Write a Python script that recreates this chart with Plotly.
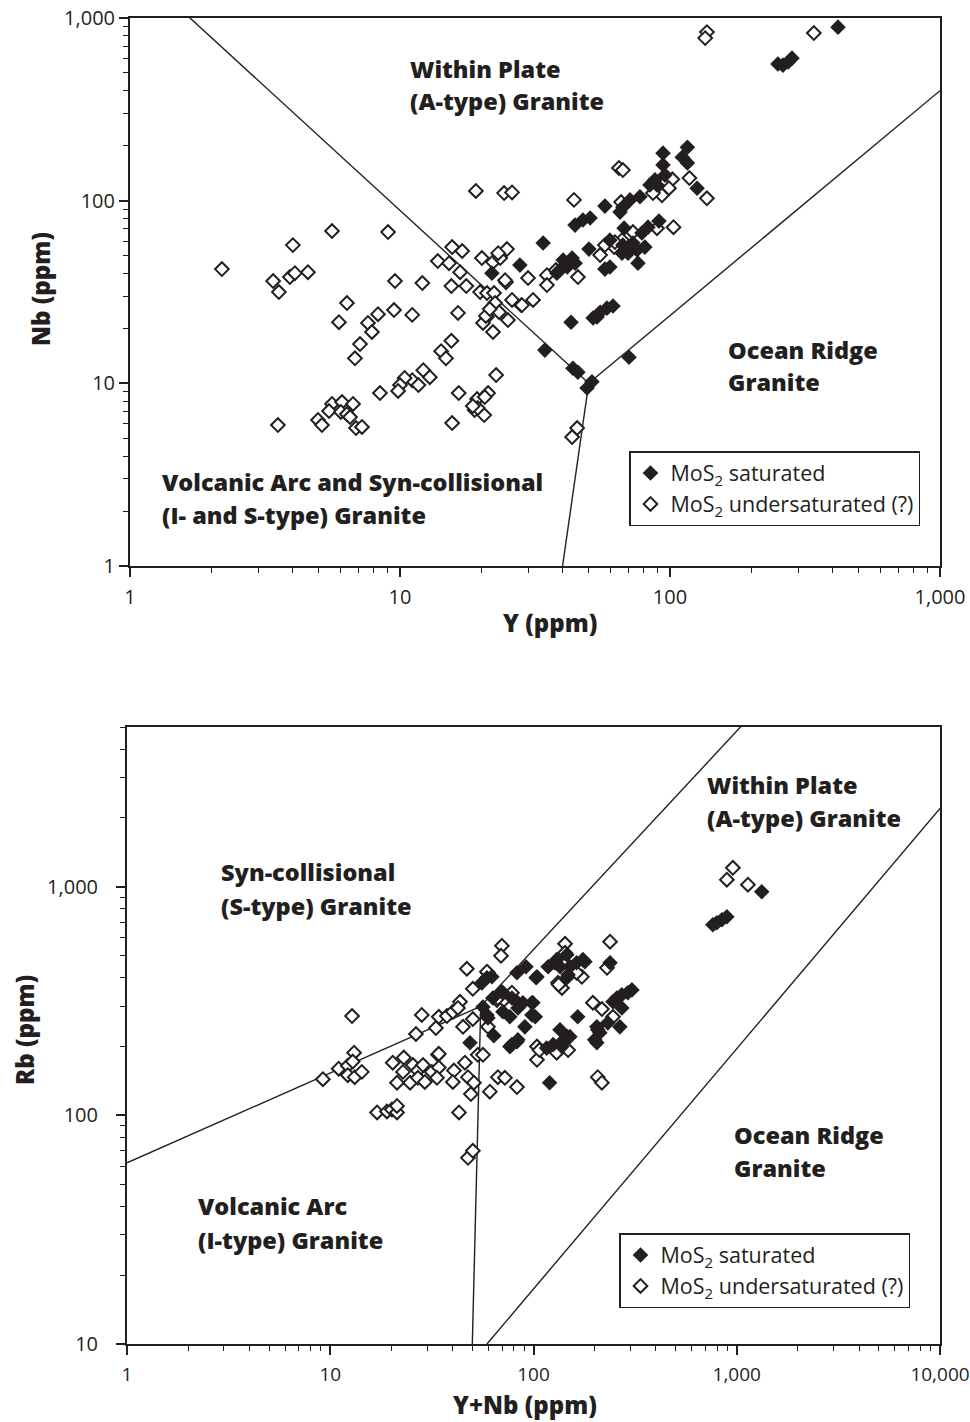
import plotly.graph_objects as go

INK = "#231f20"
FONT = "Open Sans"

# ---------------- Top diagram: Nb vs Y ----------------
top_sat_Y = [419, 251, 262, 283, 274, 94.2, 116, 111, 116, 94.2,
             95.8, 88.0, 84.3, 89.5, 126, 77.4, 71.1, 66.9, 65.3, 57.4,
             50.6, 47.6, 44.5, 33.9, 27.8, 21.9, 91.0, 82.9, 78.7, 67.6,
             59.9, 66.9, 72.9, 80.7, 75.5, 69.9, 66.4, 50.1, 76.1, 59.9,
             57.4, 40.2, 43.4, 44.5, 41.6, 39.1, 43.0, 51.9, 55.1, 58.4,
             61.5, 53.7, 34.4, 43.7, 45.6, 49.3, 51.4, 70.5, 38.1]
top_sat_Nb = [891, 560, 552, 603, 574, 182, 196, 173, 161, 157,
              138, 130, 122, 122, 117, 105, 101, 92.2, 86.6, 93.4,
              80.4, 78.3, 73.5, 58.6, 44.4, 40.1, 77.3, 71.6, 66.5, 70.7,
              60.8, 57.1, 58.6, 55.7, 53.7, 51.6, 51.6, 54.3, 45.5, 43.3,
              42.2, 47.3, 48.5, 45.5, 43.3, 41.7, 21.6, 22.8, 24.5, 25.8,
              26.5, 23.1, 15.2, 12.1, 11.5, 9.42, 10.2, 13.9, 40.1]

top_uns_Y = [2.19, 3.39, 3.56, 3.91, 4.08, 4.56, 4.01, 5.60, 9.03, 6.36,
             5.94, 7.61, 8.29, 9.50, 11.1, 9.58, 12.1, 13.8, 15.2, 15.6,
             17.0, 16.7, 15.5, 17.6, 16.4, 19.1, 24.3, 26.0, 20.1, 22.1,
             23.5, 24.9, 23.1, 24.7, 19.8, 21.0, 22.3, 22.5, 26.0, 28.1,
             31.1, 29.8, 35.0, 35.0, 21.0, 20.3, 23.3, 25.1, 22.1, 15.5,
             14.2, 14.8, 7.87, 7.11, 6.81, 12.2, 12.9, 11.1, 10.4, 11.7,
             10.0, 9.84, 8.43, 22.7, 16.5, 19.3, 21.2, 20.6, 18.9, 20.5,
             19.4, 18.6, 15.6, 5.60, 6.10, 6.70, 5.46, 6.04, 6.36, 6.53,
             4.97, 5.14, 6.87, 7.23, 3.53, 45.3, 43.4, 44.1, 64.7, 66.9,
             65.9, 118, 137, 102, 99.1, 93.4, 86.5, 103, 89.5, 72.9,
             66.4, 62.1, 55.1, 45.6, 37.8, 24.5, 57.4, 62.5, 137, 135,
             341, 28.3, 20.8, 21.5]
top_uns_Nb = [42.2, 36.3, 31.6, 38.2, 40.1, 40.6, 57.1, 68.2, 67.3, 27.5,
              21.6, 21.4, 23.9, 25.2, 23.7, 36.3, 35.4, 46.7, 45.5, 55.7,
              53.0, 40.6, 34.1, 34.1, 24.3, 113, 110, 111, 48.5, 46.1,
              48.5, 54.3, 51.6, 35.8, 31.6, 31.2, 31.2, 27.5, 28.6, 26.8,
              28.6, 37.7, 39.1, 34.5, 23.1, 21.4, 24.5, 22.2, 19.1, 17.1,
              15.0, 13.7, 19.1, 16.4, 13.7, 11.8, 10.8, 10.4, 10.7, 9.79,
              9.79, 9.08, 8.85, 11.1, 8.85, 8.20, 8.85, 8.41, 7.14, 6.70,
              7.32, 7.51, 6.06, 7.71, 7.90, 7.71, 7.05, 6.97, 6.79, 6.54,
              6.30, 5.91, 5.69, 5.77, 5.91, 5.69, 5.08, 101, 151, 147,
              98.2, 133, 103, 131, 117, 107, 110, 71.6, 70.7, 67.3,
              60.8, 55.7, 50.4, 38.2, 41.7, 36.7, 57.1, 59.3, 837, 776,
              827, 26.8, 23.4, 25.5]

# field boundaries (Pearce et al. 1984), vertices in ppm
top_bnd_a_Y = [1, 50]
top_bnd_a_Nb = [2000, 10]
top_bnd_b_Y = [50, 1000]
top_bnd_b_Nb = [10, 400]
top_bnd_c_Y = [50, 40]
top_bnd_c_Nb = [10, 1]

# ---------------- Bottom diagram: Rb vs Y+Nb ----------------
bot_sat_YNb = [48.7, 59.0, 62.4, 55.7, 56.4, 59.7, 63.8, 69.9, 78.3, 82.9,
               76.5, 83.8, 88.7, 98.2, 102, 90.7, 82.9, 78.3, 82.9, 91.8,
               103, 118, 127, 135, 146, 151, 163, 179, 146, 238,
               165, 205, 212, 232, 266, 246, 272, 291, 135, 146,
               116, 125, 76.5, 1327, 798, 845, 894, 763, 104, 130,
               175, 148, 305, 257, 272, 207, 200, 151, 138, 99.3,
               98.2, 83.8, 70.7, 63.1, 70.7, 59.0, 120, 205, 138]
bot_sat_Rb = [208, 400, 404, 380, 298, 267, 223, 347, 326, 314,
              270, 295, 311, 311, 270, 244, 210, 204, 421, 447,
              400, 447, 465, 447, 504, 447, 465, 470, 400, 465,
              270, 244, 230, 254, 244, 314, 337, 344, 237, 221,
              197, 204, 200, 951, 696, 718, 739, 682, 404, 480,
              480, 412, 354, 326, 295, 237, 214, 221, 200, 311,
              275, 214, 284, 326, 344, 275, 139, 208, 210]

bot_uns_YNb = [9.20, 11.0, 12.2, 13.1, 12.9, 12.2, 13.2, 14.3, 12.8, 17.0,
               19.0, 20.1, 21.3, 21.3, 20.3, 23.0, 21.3, 22.8, 24.7, 25.5,
               27.0, 28.6, 27.0, 29.2, 31.6, 33.9, 34.2, 33.5, 40.6, 40.1,
               46.0, 47.6, 49.2, 50.9, 43.0, 47.6, 50.3, 53.2, 26.4, 28.2,
               33.1, 34.2, 37.5, 40.1, 43.5, 42.5, 45.0, 50.3, 50.3, 47.0,
               59.7, 69.9, 69.2, 66.1, 71.5, 76.5, 59.7, 34.2, 56.4, 143,
               238, 132, 138, 173, 163, 196, 217, 246, 230, 104,
               130, 148, 957, 894, 1135, 143, 133, 66.8, 78.3, 59.0,
               61.0, 66.8, 72.3, 82.9, 104, 107, 207, 217]
bot_uns_Rb = [144, 160, 165, 188, 172, 150, 147, 155, 272, 103,
              104, 106, 103, 110, 170, 179, 139, 155, 139, 166,
              157, 166, 146, 140, 155, 184, 162, 146, 157, 140,
              170, 147, 124, 139, 103, 65.2, 70.0, 184, 227, 275,
              241, 270, 272, 284, 314, 295, 244, 264, 358, 438,
              421, 552, 499, 320, 320, 337, 244, 186, 184, 563,
              575, 380, 361, 404, 421, 311, 292, 270, 442, 200,
              188, 193, 1211, 1074, 1021, 514, 373, 326, 344, 425,
              127, 147, 146, 133, 175, 193, 147, 139]

bot_bnd_a_YNb = [1, 55]
bot_bnd_a_Rb = [62, 300]
bot_bnd_b_YNb = [55, 50]
bot_bnd_b_Rb = [300, 10]
bot_bnd_c_YNb = [55, 1100]
bot_bnd_c_Rb = [300, 5260]
bot_bnd_d_YNb = [59, 10000]
bot_bnd_d_Rb = [10, 2200]

SAT_NAME = "MoS<sub>2</sub> saturated"
UNS_NAME = "MoS<sub>2</sub> undersaturated (?)"

fig = go.Figure()

def boundary(x, y, xa, ya):
    fig.add_trace(go.Scatter(x=x, y=y, mode="lines", xaxis=xa, yaxis=ya,
                             line=dict(color=INK, width=1.4),
                             showlegend=False, hoverinfo="skip"))

for bx, by in [(top_bnd_a_Y, top_bnd_a_Nb), (top_bnd_b_Y, top_bnd_b_Nb),
               (top_bnd_c_Y, top_bnd_c_Nb)]:
    boundary(bx, by, "x", "y")
for bx, by in [(bot_bnd_a_YNb, bot_bnd_a_Rb), (bot_bnd_b_YNb, bot_bnd_b_Rb),
               (bot_bnd_c_YNb, bot_bnd_c_Rb), (bot_bnd_d_YNb, bot_bnd_d_Rb)]:
    boundary(bx, by, "x2", "y2")

open_marker = dict(symbol="diamond", size=10.5, color="white",
                   line=dict(color=INK, width=2))
fill_marker = dict(symbol="diamond", size=12, color=INK,
                   line=dict(color=INK, width=0))

fig.add_trace(go.Scatter(x=top_uns_Y, y=top_uns_Nb, mode="markers", name=UNS_NAME,
                         marker=open_marker, xaxis="x", yaxis="y",
                         legend="legend", legendrank=2))
fig.add_trace(go.Scatter(x=top_sat_Y, y=top_sat_Nb, mode="markers", name=SAT_NAME,
                         marker=fill_marker, xaxis="x", yaxis="y",
                         legend="legend", legendrank=1))
fig.add_trace(go.Scatter(x=bot_uns_YNb, y=bot_uns_Rb, mode="markers", name=UNS_NAME,
                         marker=open_marker, xaxis="x2", yaxis="y2",
                         legend="legend2", legendrank=2))
fig.add_trace(go.Scatter(x=bot_sat_YNb, y=bot_sat_Rb, mode="markers", name=SAT_NAME,
                         marker=fill_marker, xaxis="x2", yaxis="y2",
                         legend="legend2", legendrank=1))

W, H = 970, 1422

def minor_vals(lo, hi):
    vals = []
    d = lo
    while d < hi:
        for k in range(2, 10):
            vals.append(k * d)
        d *= 10
    return vals

def axis(rng, domain, anchor, tickvals, ticktext, minors, standoff=None, fsize=20):
    a = dict(type="log", range=rng, domain=domain, anchor=anchor, automargin=False,
             showline=True, linecolor=INK, linewidth=2, mirror=True,
             ticks="outside", ticklen=9, tickwidth=1.5, tickcolor=INK,
             showgrid=False, zeroline=False, ticklabeloverflow="allow",
             tickmode="array", tickvals=tickvals, ticktext=ticktext,
             tickfont=dict(family=FONT, size=fsize, color=INK),
             minor=dict(ticks="outside", ticklen=5, tickwidth=1.3, tickcolor=INK,
                        tickmode="array", tickvals=minors, showgrid=False))
    if standoff is not None:
        a["ticklabelstandoff"] = standoff
    return a

def px_x(p):
    return p / W

def px_y(p):
    return 1 - p / H

layout = dict(
    width=W, height=H, margin=dict(l=0, r=0, t=0, b=0, autoexpand=False),
    paper_bgcolor="white", plot_bgcolor="white",
    font=dict(family=FONT, color=INK),
    xaxis=axis([0, 3], [px_x(130), px_x(940)], "y",
               [1, 10, 100, 1000], ["1", "10", "100", "1,000"], minor_vals(1, 1000),
               standoff=3),
    yaxis=axis([0, 3], [px_y(566), px_y(18)], "x",
               [1, 10, 100, 1000], ["1", "10", "100", "1,000"], minor_vals(1, 1000)),
    xaxis2=axis([0, 4], [px_x(127), px_x(940)], "y2",
                [1, 10, 100, 1000, 10000], ["1", "10", "100", "1,000", "10,000"],
                minor_vals(1, 10000), standoff=3, fsize=19),
    yaxis2=axis([1, 3.69897], [px_y(1344), px_y(727)], "x2",
                [10, 100, 1000], ["10", "100", "1,000"],
                [v for v in minor_vals(10, 10000) if v <= 5000], standoff=14),
    legend=dict(x=px_x(629), y=px_y(451), xanchor="left", yanchor="top",
                bgcolor="white", bordercolor=INK, borderwidth=1.5,
                font=dict(family=FONT, size=21.5, color=INK), traceorder="normal"),
    legend2=dict(x=px_x(619), y=px_y(1233), xanchor="left", yanchor="top",
                 bgcolor="white", bordercolor=INK, borderwidth=1.5,
                 font=dict(family=FONT, size=21.5, color=INK), traceorder="normal"),
    showlegend=True,
)
fig.update_layout(**layout)

labels = [
    ("Within Plate", 408, 69), ("(A-type) Granite", 408, 101),
    ("Ocean Ridge", 726, 350), ("Granite", 726, 382),
    ("Volcanic Arc and Syn-collisional", 160, 482), ("(I- and S-type) Granite", 160, 515),
    ("Within Plate", 705, 785), ("(A-type) Granite", 705, 818),
    ("Syn-collisional", 219, 872), ("(S-type) Granite", 219, 906),
    ("Ocean Ridge", 732, 1135), ("Granite", 732, 1168),
    ("Volcanic Arc", 196, 1206), ("(I-type) Granite", 196, 1240),
]
for txt, x, y in labels:
    fig.add_annotation(text=txt, x=px_x(x), y=px_y(y), xref="paper", yref="paper",
                       xanchor="left", yanchor="middle", showarrow=False,
                       font=dict(family=FONT, size=23.5, color=INK, weight=800))

titles = [
    ("Nb (ppm)", 40, 289, -90), ("Y (ppm)", 550, 622, 0),
    ("Rb (ppm)", 24, 1030, -90), ("Y+Nb (ppm)", 525, 1404, 0),
]
for txt, x, y, ang in titles:
    fig.add_annotation(text=txt, x=px_x(x), y=px_y(y), xref="paper", yref="paper",
                       xanchor="center", yanchor="middle", showarrow=False, textangle=ang,
                       font=dict(family=FONT, size=24, color=INK, weight=800))

fig.write_html("out.html")
